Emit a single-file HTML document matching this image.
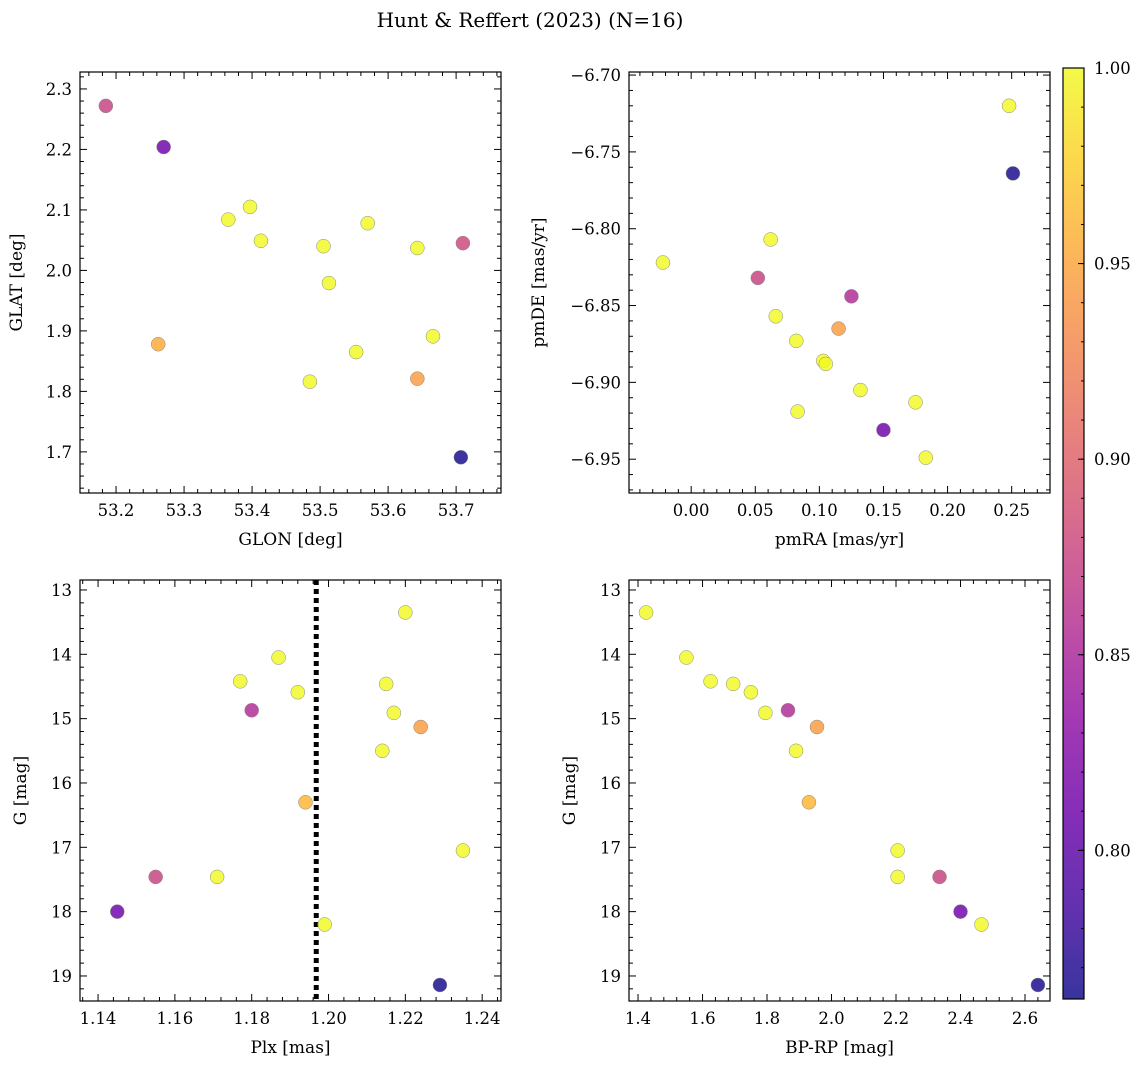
<!DOCTYPE html>
<html><head><meta charset="utf-8"><style>
html,body{margin:0;padding:0;background:#fff;}
svg{display:block;font-family:"DejaVu Serif","Liberation Serif",serif;}
</style></head><body>
<svg id="fig" width="1148" height="1068" viewBox="0 0 1148 1068" xmlns="http://www.w3.org/2000/svg">
<text x="530" y="27" font-size="20" text-anchor="middle">Hunt &amp; Reffert (2023) (N=16)</text>
</svg>
<script>
// ---- data ----
const glon = [53.185,53.27,53.365,53.397,53.413,53.505,53.513,53.57,53.643,53.71,53.262,53.553,53.666,53.485,53.643,53.707];
const glat = [2.272,2.204,2.084,2.105,2.049,2.040,1.979,2.078,2.037,2.045,1.878,1.865,1.891,1.816,1.821,1.691];
const probA = [0.875,0.81,1,1,1,1,1,1,1,0.88,0.955,1,1,1,0.945,0.765];
const pmra = [-0.022,0.062,0.052,0.125,0.066,0.115,0.082,0.103,0.105,0.132,0.083,0.175,0.150,0.183,0.248,0.251];
const pmde = [-6.822,-6.807,-6.832,-6.844,-6.857,-6.865,-6.873,-6.886,-6.888,-6.905,-6.919,-6.913,-6.931,-6.949,-6.720,-6.764];
const probB = [1,1,0.875,0.855,1,0.945,1,1,1,1,1,1,0.81,1,1,0.765];
const plx = [1.145,1.155,1.171,1.177,1.180,1.187,1.192,1.194,1.199,1.214,1.215,1.217,1.220,1.224,1.229,1.235];
const gmagC = [18.0,17.46,17.46,14.42,14.87,14.05,14.59,16.30,18.2,15.5,14.46,14.91,13.35,15.13,19.14,17.05];
const probC = [0.81,0.875,1,1,0.855,1,1,0.96,1,1,1,1,1,0.945,0.765,1];
const bprp = [1.425,1.55,1.625,1.695,1.75,1.795,1.865,1.955,1.89,1.93,2.205,2.205,2.335,2.40,2.465,2.64];
const gmagD = [13.35,14.05,14.42,14.46,14.59,14.91,14.87,15.13,15.5,16.3,17.05,17.46,17.46,18.0,18.2,19.14];
const probD = [1,1,1,1,1,1,0.855,0.945,1,0.96,1,1,0.875,0.81,1,0.765];
const plxLine = 1.1968;
const cbTicks = [0.80,0.85,0.90,0.95,1.00];
const vmin = 0.762, vmax = 1.0;

const NS="http://www.w3.org/2000/svg";
const svg=document.getElementById('fig');
function mk(tag,attrs,parent){const e=document.createElementNS(NS,tag);for(const k in attrs)e.setAttribute(k,attrs[k]);(parent||svg).appendChild(e);return e;}
const stops=['#0d0887','#41049d','#6a00a8','#8f0da4','#b12a90','#cc4778','#e16462','#f2844b','#fca636','#fcce25','#f0f921'];
function hx(h){return [1,3,5].map(i=>parseInt(h.substr(i,2),16));}
function plasma(t){t=Math.max(0,Math.min(1,t));const f=t*10,i=Math.min(9,Math.floor(f)),r=f-i;const a=hx(stops[i]),b=hx(stops[i+1]);return 'rgb('+a.map((v,k)=>Math.round(v+(b[k]-v)*r)).join(',')+')';}
function col(v){return plasma((v-vmin)/(vmax-vmin));}
function fmt(v,d){let s=v.toFixed(d);if(v<0)s='\u2212'+s.slice(1);return s;}

function panel(o){
  const g=mk('g',{});  
  const X=v=>o.x0+(v-o.xmin)/(o.xmax-o.xmin)*(o.x1-o.x0);
  const Y=o.yinv? v=>o.y0+(v-o.ymin)/(o.ymax-o.ymin)*(o.y1-o.y0) : v=>o.y1-(v-o.ymin)/(o.ymax-o.ymin)*(o.y1-o.y0);
  const lo=Math.min(o.xmin,o.xmax), hi=Math.max(o.xmin,o.xmax);
  for(let k=Math.ceil(lo/o.xminor-1e-6);k*o.xminor<=hi+1e-9;k++){
    const v=k*o.xminor, px=X(v);
    const maj=Math.abs(v/o.xmajor-Math.round(v/o.xmajor))<1e-6;
    const L=maj?7:4;
    mk('line',{x1:px,x2:px,y1:o.y1,y2:o.y1-L,stroke:'#000','stroke-width':1},g);
    mk('line',{x1:px,x2:px,y1:o.y0,y2:o.y0+L,stroke:'#000','stroke-width':1},g);
    if(maj){const t=mk('text',{x:px,y:o.y1+23,'font-size':16.5,'text-anchor':'middle'},g);t.textContent=fmt(v,o.xd);
      }
  }
  const ylo=Math.min(o.ymin,o.ymax), yhi=Math.max(o.ymin,o.ymax);
  for(let k=Math.ceil(ylo/o.yminor-1e-6);k*o.yminor<=yhi+1e-9;k++){
    const v=k*o.yminor, py=Y(v);
    const maj=Math.abs(v/o.ymajor-Math.round(v/o.ymajor))<1e-6;
    const L=maj?7:4;
    mk('line',{x1:o.x0,x2:o.x0+L,y1:py,y2:py,stroke:'#000','stroke-width':1},g);
    mk('line',{x1:o.x1,x2:o.x1-L,y1:py,y2:py,stroke:'#000','stroke-width':1},g);
    if(maj){const t=mk('text',{x:o.x0-8,y:py+6,'font-size':16.5,'text-anchor':'end'},g);t.textContent=fmt(v,o.yd);
      }
  }
  if(o.vline!==undefined){const l=mk('line',{x1:X(o.vline),x2:X(o.vline),y1:o.y0,y2:o.y1,stroke:'#000','stroke-width':5,'stroke-dasharray':'5,4'},g);
    }
  for(let i=0;i<o.xs.length;i++){
    const c=mk('circle',{cx:X(o.xs[i]),cy:Y(o.ys[i]),r:7,fill:col(o.cs[i]),'fill-opacity':0.82,stroke:'#888','stroke-width':0.5},g);
    
    
  }
  const b=mk('rect',{x:o.x0,y:o.y0,width:o.x1-o.x0,height:o.y1-o.y0,fill:'none',stroke:'#000','stroke-width':1.2},g);
  
  const xl=mk('text',{x:(o.x0+o.x1)/2,y:o.y1+52,'font-size':17,'text-anchor':'middle'},g);xl.textContent=o.xlabel;
  
  const cy=(o.y0+o.y1)/2, lx=o.x0-o.yoff;
  const yl=mk('text',{x:lx,y:cy,'font-size':17,'text-anchor':'middle',transform:'rotate(-90 '+lx+' '+cy+')'},g);yl.textContent=o.ylabel;
  
}
panel({name:'glon-glat-panel',yoff:58,x0:80,x1:501,y0:72,y1:493,xmin:53.147,xmax:53.766,ymin:1.632,ymax:2.328,xmajor:0.1,xminor:0.02,ymajor:0.1,yminor:0.02,xd:1,yd:1,xs:glon,ys:glat,cs:probA,xlabel:'GLON [deg]',ylabel:'GLAT [deg]'});
panel({name:'proper-motion-panel',yoff:85,x0:629,x1:1050,y0:72,y1:493,xmin:-0.0485,xmax:0.2799,ymin:-6.972,ymax:-6.698,xmajor:0.05,xminor:0.01,ymajor:0.05,yminor:0.01,xd:2,yd:2,xs:pmra,ys:pmde,cs:probB,xlabel:'pmRA [mas/yr]',ylabel:'pmDE [mas/yr]'});
panel({name:'parallax-mag-panel',yoff:54,x0:80,x1:501,y0:580,y1:1001,xmin:1.1353,xmax:1.2449,ymin:12.845,ymax:19.389,yinv:true,xmajor:0.02,xminor:0.004,ymajor:1,yminor:0.2,xd:2,yd:0,xs:plx,ys:gmagC,cs:probC,vline:plxLine,xlabel:'Plx [mas]',ylabel:'G [mag]'});
panel({name:'cmd-panel',yoff:54,x0:629,x1:1050,y0:580,y1:1001,xmin:1.372,xmax:2.6775,ymin:12.845,ymax:19.389,yinv:true,xmajor:0.2,xminor:0.04,ymajor:1,yminor:0.2,xd:1,yd:0,xs:bprp,ys:gmagD,cs:probD,xlabel:'BP-RP [mag]',ylabel:'G [mag]'});

const cb=mk('g',{});  
const defs=mk('defs',{},cb);
const lg=mk('linearGradient',{id:'pl',x1:0,y1:1,x2:0,y2:0},defs);
stops.forEach((s,i)=>mk('stop',{offset:(i/10),'stop-color':s},lg));
const cbx0=1063,cbx1=1084,cby0=68,cby1=999;
mk('rect',{x:cbx0,y:cby0,width:cbx1-cbx0,height:cby1-cby0,fill:'url(#pl)','fill-opacity':0.82},cb);
const CY=v=>cby1-(v-vmin)/(vmax-vmin)*(cby1-cby0);
for(let k=Math.ceil(vmin/0.01);k*0.01<=vmax+1e-9;k++){const v=k*0.01;mk('line',{x1:cbx1,x2:cbx1-3,y1:CY(v),y2:CY(v),stroke:'#000'},cb);}
cbTicks.forEach(v=>{mk('line',{x1:cbx1,x2:cbx1-6,y1:CY(v),y2:CY(v),stroke:'#000'},cb);
  const t=mk('text',{x:cbx1+10,y:CY(v)+6,'font-size':16.5},cb);t.textContent=v.toFixed(2);
  });
mk('rect',{x:cbx0,y:cby0,width:cbx1-cbx0,height:cby1-cby0,fill:'none',stroke:'#000','stroke-width':1.2},cb);
</script>
</body></html>
